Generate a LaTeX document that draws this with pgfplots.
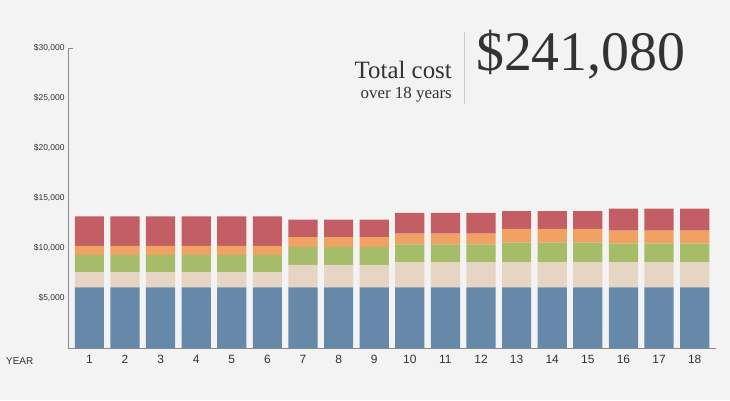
\documentclass[border=0pt]{standalone}
\usepackage{pgfplots}
\pgfplotsset{compat=1.18}
\usepackage{pgfplotstable}
\usepackage{fontspec}
\setmainfont{Liberation Sans}
\newfontfamily\titlefont{Liberation Serif}
\definecolor{bgcol}{HTML}{F3F3F3}
\definecolor{cblue}{HTML}{6689A9}
\definecolor{cbeige}{HTML}{E6D5C2}
\definecolor{cgreen}{HTML}{A5BC68}
\definecolor{corange}{HTML}{F0A263}
\definecolor{cred}{HTML}{C25E64}
\definecolor{txt}{HTML}{333333}
\definecolor{axcol}{HTML}{8A8A8A}

\pgfplotstableread{
year blue beige green orange red
1  6060 1510 1740 900  2960
2  6060 1510 1740 900  2960
3  6060 1510 1740 900  2960
4  6060 1510 1740 900  2960
5  6060 1510 1740 900  2960
6  6060 1510 1740 900  2960
7  6060 2250 1790 990  1740
8  6060 2250 1790 990  1740
9  6060 2250 1790 990  1740
10 6060 2510 1790 1070 2080
11 6060 2510 1790 1070 2080
12 6060 2510 1790 1070 2080
13 6060 2530 1950 1370 1790
14 6060 2530 1950 1370 1790
15 6060 2530 1950 1370 1790
16 6060 2530 1850 1290 2220
17 6060 2530 1850 1290 2220
18 6060 2530 1850 1290 2220
}\costdata

\begin{document}
\begin{tikzpicture}[x=1bp,y=1bp]
\fill[bgcol] (0,0) rectangle (730,400);
\begin{axis}[
  at={(68bp,52bp)}, anchor=south west,
  scale only axis, width=648bp, height=300bp,
  xmin=0.4, xmax=18.6, ymin=0, ymax=30000,
  ybar stacked, bar width=0.82,
  axis y line*=left, axis x line*=bottom,
  axis line style={draw=axcol, line width=0.8pt},
  xtick={1,...,18},
  ytick={5000,10000,15000,20000,25000},
  yticklabels={\$5{,}000,\$10{,}000,\$15{,}000,\$20{,}000,\$25{,}000},
  extra y ticks={30000}, extra y tick labels={\$30{,}000},
  extra y tick style={major tick length=5bp, tick style={draw=axcol, line width=0.8pt}},
  major tick length=0pt,
  scaled y ticks=false,
  /pgf/number format/assume math mode=true,
  x tick label style={font=\fontsize{12}{12}\selectfont, text=txt, yshift=-4bp},
  y tick label style={font=\fontsize{8.5}{9}\selectfont, text=txt},
  clip=false,
]
\addplot[fill=cblue, draw=none] table[x=year, y=blue] {\costdata};
\addplot[fill=cbeige, draw=none] table[x=year, y=beige] {\costdata};
\addplot[fill=cgreen, draw=none] table[x=year, y=green] {\costdata};
\addplot[fill=corange, draw=none] table[x=year, y=orange] {\costdata};
\addplot[fill=cred, draw=none] table[x=year, y=red] {\costdata};
\end{axis}
\node[anchor=base west, font=\fontsize{10}{10}\selectfont, text=txt, inner sep=0pt] at (6,36) {YEAR};
\node[anchor=base east, font=\titlefont\fontsize{25}{25}\selectfont, text=txt, inner sep=0pt] at (452,322) {Total cost};
\node[anchor=base east, font=\titlefont\fontsize{17}{17}\selectfont, text=txt, inner sep=0pt] at (452,302) {over 18 years};
\draw[gray!40, line width=0.8pt] (464,296) -- (464,368);
\node[anchor=base west, font=\titlefont\fontsize{56}{56}\selectfont, text=txt, inner sep=0pt] at (476,330) {\$241,080};
\end{tikzpicture}
\end{document}
